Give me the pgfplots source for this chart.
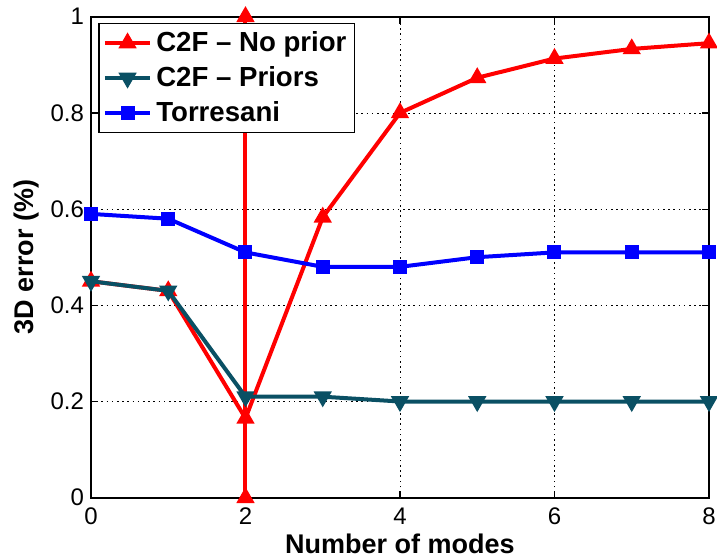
\documentclass[border=0pt]{standalone}
\usepackage{pgfplots}
\pgfplotsset{compat=1.18}
\usepackage{fontspec}
\setmainfont{Liberation Sans}
\definecolor{myred}{RGB}{255,0,0}
\definecolor{myteal}{RGB}{10,80,100}
\definecolor{myblue}{RGB}{0,0,255}
\begin{document}
\begin{tikzpicture}
\begin{axis}[
  scale only axis,
  width=309pt, height=240.5pt,
  xmin=0, xmax=8, ymin=0, ymax=1,
  xtick={0,2,4,6,8},
  ytick={0,0.2,0.4,0.6,0.8,1},
  /pgf/number format/assume math mode=true,
  tick label style={font=\fontsize{12}{14}\selectfont},
  xticklabel style={yshift=-1.5pt},
  xlabel={Number of modes},
  ylabel={3D error (\%)},
  label style={font=\bfseries\fontsize{13.5}{16}\selectfont},
  xlabel style={at={(axis description cs:0.5,-0.115)}, anchor=base},
  ylabel style={at={(axis description cs:-0.105,0.5)}, anchor=center},
  grid=major,
  major grid style={black, line width=0.4pt, dash pattern=on 0.8pt off 1.8pt},
  tick align=inside,
  major tick length=3.5pt,
  tick style={black, line width=0.6pt},
  axis line style={line width=0.9pt},
  clip mode=individual,
  legend cell align=left,
  legend style={at={(rel axis cs:0,1)}, anchor=north west, xshift=3.5pt, yshift=-3pt,
    font=\bfseries\fontsize{13.8}{16}\selectfont, draw=black, line width=0.8pt,
    inner xsep=2pt, inner ysep=2pt, row sep=2pt},
  legend image code/.code={\draw[mark repeat=2,mark phase=2] plot coordinates {(0cm,0cm)(0.4cm,0cm)(0.8cm,0cm)};},
]
\addplot[myred, line width=2pt, mark=triangle*, mark size=3.3pt, mark options={solid}, forget plot]
  coordinates {(2,0)(2,1)};
\addplot[myred, line width=2pt, mark=triangle*, mark size=3.3pt, mark options={solid}]
  coordinates {(0,0.45)(1,0.43)(2,0.165)(3,0.583)(4,0.80)(5,0.873)(6,0.913)(7,0.933)(8,0.945)};
\addlegendentry{C2F -- No prior}
\addplot[myteal, line width=2pt, mark=triangle*, mark size=3.3pt, mark options={solid, rotate=180}]
  coordinates {(0,0.45)(1,0.43)(2,0.21)(3,0.21)(4,0.20)(5,0.20)(6,0.20)(7,0.20)(8,0.20)};
\addlegendentry{C2F -- Priors}
\addplot[myblue, line width=2pt, mark=square*, mark size=2.5pt, mark options={solid}]
  coordinates {(0,0.59)(1,0.58)(2,0.51)(3,0.48)(4,0.48)(5,0.50)(6,0.51)(7,0.51)(8,0.51)};
\addlegendentry{Torresani}
\coordinate (sw) at (rel axis cs:0,0);
\coordinate (ne) at (rel axis cs:1,1);
\end{axis}
\pgfresetboundingbox
\path ([shift={(-45.5pt,-30.65pt)}]sw) rectangle ([shift={(4pt,8.35pt)}]ne);
\end{tikzpicture}
\end{document}
